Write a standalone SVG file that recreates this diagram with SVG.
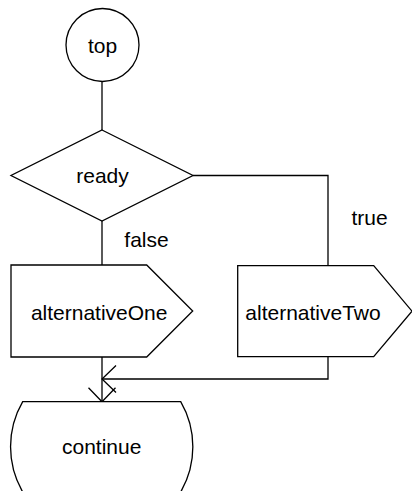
<svg xmlns="http://www.w3.org/2000/svg" width="412" height="491" viewBox="0 0 412 491">
  <style>
    .shape { fill: #ffffff; stroke: #000000; stroke-width: 1.3; }
    .edge { fill: none; stroke: #000000; stroke-width: 1.3; }
    .lbl { font-family: "Liberation Sans", Arial, sans-serif; font-size: 21px; fill: #000000; }
    .mid { text-anchor: middle; }
  </style>
  <defs>
    <marker id="arr" markerUnits="userSpaceOnUse" markerWidth="32" markerHeight="32" viewBox="-16 -16 32 32" refX="0" refY="0" orient="auto">
      <path d="M-14,-13.5 L0,0 L-14,13.5" fill="none" stroke="#000000" stroke-width="1.3"/>
    </marker>
  </defs>
  <rect x="0" y="0" width="412" height="491" fill="#ffffff"/>

  <g id="connectors">
    <path class="edge" d="M102,81.5 V130"/>
    <path class="edge" d="M102,221 V265"/>
    <path class="edge" d="M193,175.5 H328 V265.7"/>
    <path class="edge" d="M102,357 V401.7" marker-end="url(#arr)"/>
    <path class="edge" d="M328,356.7 V379 H102" marker-end="url(#arr)"/>
    <text class="lbl" x="124.3" y="247.3">false</text>
    <text class="lbl" x="351.5" y="225.3">true</text>
  </g>

  <g id="node-top">
    <circle class="shape" cx="102.5" cy="45" r="36.5"/>
    <text class="lbl mid" x="102.5" y="53">top</text>
  </g>

  <g id="node-ready">
    <polygon class="shape" points="102,130 193,175.5 102,221 11,175.5"/>
    <text class="lbl mid" x="102.5" y="183.3">ready</text>
  </g>

  <g id="node-alternativeOne">
    <path class="shape" d="M11,265 H146.7 L192.7,311 L146.7,357 H11 Z"/>
    <text class="lbl mid" x="99.2" y="320">alternativeOne</text>
  </g>

  <g id="node-alternativeTwo">
    <path class="shape" d="M237.7,265.7 H373.7 L412,311.2 L373.7,356.7 H237.7 Z"/>
    <text class="lbl mid" x="313" y="320">alternativeTwo</text>
  </g>

  <g id="node-continue">
    <path class="shape" d="M22.7,401.7 H180.7 A90,90 0 0 1 180.7,492 H22.7 A90,90 0 0 1 22.7,401.7 Z"/>
    <text class="lbl mid" x="101.7" y="454">continue</text>
  </g>
</svg>
